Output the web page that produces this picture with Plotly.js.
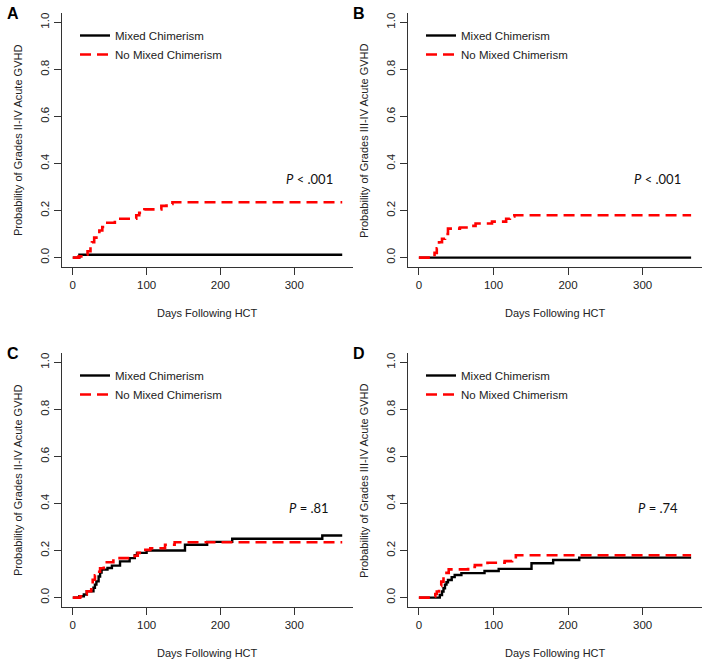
<!DOCTYPE html>
<html>
<head>
<meta charset="utf-8">
<script src="https://cdn.plot.ly/plotly-3.0.1.min.js"></script>
<style>html,body{margin:0;padding:0;background:#fff;}#chart{width:710px;height:667px;}</style>
</head>
<body>
<div id="chart"></div>
<script>
// Panel A: Grades II-IV acute GVHD
const daysA_mixed = [0, 9, 365];
const probA_mixed = [0, 0.012, 0.012];
const daysA_noMixed = [0, 8, 15, 20, 24, 26, 29, 32, 36, 40, 43, 57, 86, 90, 97, 120, 127, 135, 365];
const probA_noMixed = [0, 0.005, 0.013, 0.027, 0.045, 0.065, 0.085, 0.1, 0.115, 0.13, 0.148, 0.165, 0.18, 0.19, 0.205, 0.22, 0.228, 0.235, 0.235];

// Panel B: Grades III-IV acute GVHD
const daysB_mixed = [0, 365];
const probB_mixed = [0, 0];
const daysB_noMixed = [0, 18, 21, 24, 27, 31, 35, 39, 55, 70, 76, 98, 117, 122, 128, 365];
const probB_noMixed = [0, 0.005, 0.02, 0.04, 0.065, 0.08, 0.1, 0.123, 0.128, 0.135, 0.145, 0.153, 0.165, 0.175, 0.18, 0.18];

// Panel C: Grades II-IV acute GVHD
const daysC_mixed = [0, 9, 15, 19, 28, 30, 32, 35, 37, 39, 47, 53, 64, 77, 84, 87, 100, 152, 182, 216, 338, 365];
const probC_mixed = [0, 0.006, 0.013, 0.027, 0.042, 0.055, 0.069, 0.09, 0.106, 0.119, 0.126, 0.136, 0.154, 0.168, 0.18, 0.19, 0.2, 0.225, 0.237, 0.25, 0.264, 0.264];
const daysC_noMixed = [0, 10, 15, 19, 25, 27, 30, 33, 37, 42, 55, 84, 88, 93, 105, 125, 138, 365];
const probC_noMixed = [0, 0.006, 0.013, 0.027, 0.05, 0.076, 0.095, 0.11, 0.125, 0.15, 0.168, 0.178, 0.19, 0.203, 0.21, 0.225, 0.235, 0.235];

// Panel D: Grades III-IV acute GVHD
const daysD_mixed = [0, 28, 31, 33, 35, 37, 39, 44, 48, 57, 88, 107, 151, 180, 215, 365];
const probD_mixed = [0, 0.011, 0.026, 0.04, 0.055, 0.065, 0.075, 0.087, 0.096, 0.104, 0.113, 0.122, 0.146, 0.16, 0.17, 0.17];
const daysD_noMixed = [0, 20, 22, 24, 27, 30, 33, 37, 40, 66, 75, 92, 115, 125, 130, 365];
const probD_noMixed = [0, 0.005, 0.015, 0.026, 0.05, 0.068, 0.089, 0.105, 0.12, 0.13, 0.138, 0.148, 0.155, 0.165, 0.18, 0.18];

const seriesNames = ['Mixed Chimerism', 'No Mixed Chimerism'];
const panelLetters = ['A', 'B', 'C', 'D'];
const pValues = ['<i>P</i> &lt; .001', '<i>P</i> &lt; .001', '<i>P</i> = .81', '<i>P</i> = .74'];
const yTitles = ['Probability of Grades II-IV Acute GVHD', 'Probability of Grades III-IV Acute GVHD',
                 'Probability of Grades II-IV Acute GVHD', 'Probability of Grades III-IV Acute GVHD'];
const xTitle = 'Days Following HCT';
const xTicks = [0, 100, 200, 300];
const yTicks = [0, 0.2, 0.4, 0.6, 0.8, 1.0];

const panels = [
  [daysA_mixed, probA_mixed, daysA_noMixed, probA_noMixed],
  [daysB_mixed, probB_mixed, daysB_noMixed, probB_noMixed],
  [daysC_mixed, probC_mixed, daysC_noMixed, probC_noMixed],
  [daysD_mixed, probD_mixed, daysD_noMixed, probD_noMixed]
];

const W = 710, H = 667;
const px = v => v / W;
const py = v => 1 - v / H;
// plot boxes (left, right, top, bottom) in pixels
const boxes = [
  [62, 353, 13, 267],
  [408, 702, 13, 267],
  [62, 353, 353, 607],
  [408, 702, 353, 607]
];

const traces = [];
panels.forEach((p, i) => {
  const sfx = i === 0 ? '' : String(i + 1);
  const leg = 'legend' + sfx;
  traces.push({
    x: p[0], y: p[1], type: 'scatter', mode: 'lines', line: {shape: 'hv', color: '#000', width: 2.4},
    name: seriesNames[0], xaxis: 'x' + sfx, yaxis: 'y' + sfx, legend: leg, hoverinfo: 'x+y'
  });
  traces.push({
    x: p[2], y: p[3], type: 'scatter', mode: 'lines', line: {shape: 'hv', color: '#ff0000', width: 2.6, dash: '11px,6px'},
    name: seriesNames[1], xaxis: 'x' + sfx, yaxis: 'y' + sfx, legend: leg, hoverinfo: 'x+y'
  });
});

const layout = {
  width: W, height: H,
  margin: {l: 0, r: 0, t: 0, b: 0},
  paper_bgcolor: '#fff', plot_bgcolor: '#fff',
  font: {family: 'Liberation Sans, Arial, sans-serif', size: 11, color: '#222'},
  annotations: [],
  showlegend: true
};

boxes.forEach((b, i) => {
  const sfx = i === 0 ? '' : String(i + 1);
  layout['xaxis' + sfx] = {
    domain: [px(b[0]), px(b[1])], anchor: 'y' + sfx,
    range: [-14.6, 379.6], tickvals: xTicks, ticks: 'outside', ticklen: 7, tickwidth: 1, tickcolor: '#333',
    showline: true, linecolor: '#333', linewidth: 1, showgrid: false, zeroline: false,
    tickfont: {size: 11.5, color: '#222'}, fixedrange: true
  };
  layout['yaxis' + sfx] = {
    domain: [py(b[3]), py(b[2])], anchor: 'x' + sfx,
    range: [-0.04, 1.04], tickvals: yTicks, tickformat: '.1f', tickangle: -90,
    ticks: 'outside', ticklen: 7, tickwidth: 1, tickcolor: '#333',
    showline: true, linecolor: '#333', linewidth: 1, showgrid: false, zeroline: false,
    tickfont: {size: 11.5, color: '#222'}, fixedrange: true
  };
  layout['legend' + sfx] = {
    x: px(b[0] + 13), y: py(b[2] + 8), xanchor: 'left', yanchor: 'top',
    bgcolor: 'rgba(0,0,0,0)', borderwidth: 0, font: {size: 11.5, color: '#222'}
  };
  // panel letter
  layout.annotations.push({
    xref: 'paper', yref: 'paper', x: px(b[0] - 49), y: py(b[2] + 0), xanchor: 'center', yanchor: 'middle',
    text: '<b>' + panelLetters[i] + '</b>', showarrow: false, font: {size: 16, color: '#000', family: 'Liberation Sans, Arial, sans-serif'}
  });
  // y title
  layout.annotations.push({
    xref: 'paper', yref: 'paper', x: px(b[0] - 44), y: py((b[2] + b[3]) / 2 + 1), xanchor: 'center', yanchor: 'middle',
    text: yTitles[i], textangle: -90, showarrow: false, font: {size: 11, color: '#222'}
  });
  // x title
  layout.annotations.push({
    xref: 'paper', yref: 'paper', x: px((b[0] + b[1]) / 2), y: py(b[3] + 46), xanchor: 'center', yanchor: 'middle',
    text: xTitle, showarrow: false, font: {size: 11, color: '#222'}
  });
  // p-value
  layout.annotations.push({
    xref: 'x' + sfx, yref: 'y' + sfx, x: 320, y: i < 2 ? 0.335 : 0.38, xanchor: 'center', yanchor: 'middle',
    text: pValues[i], showarrow: false, font: {size: 13, color: '#111', family: 'Lato, Open Sans, sans-serif'}
  });
});

Plotly.newPlot('chart', traces, layout, {displayModeBar: false, staticPlot: true});
</script>
</body>
</html>
